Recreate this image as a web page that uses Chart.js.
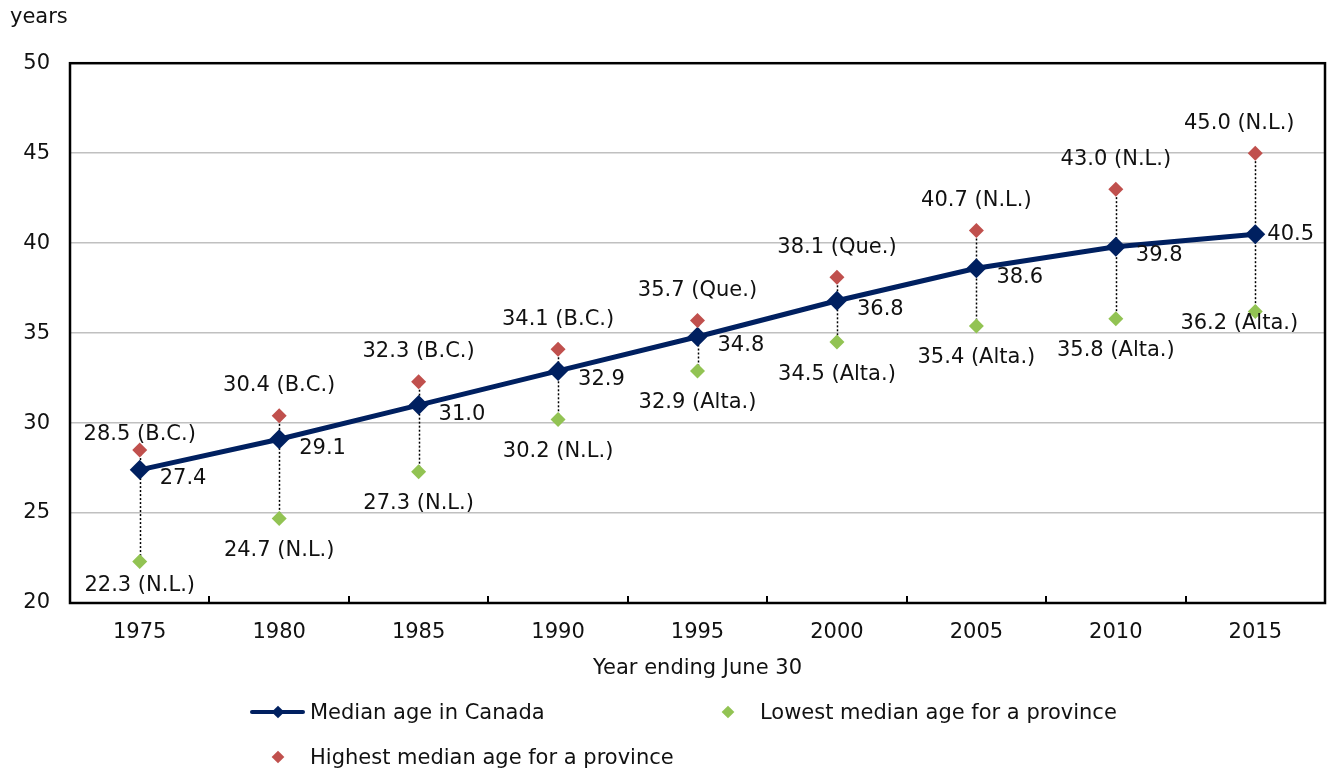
<!DOCTYPE html>
<html>
<head>
<meta charset="utf-8">
<script src="https://cdn.jsdelivr.net/npm/chart.js@4.4.1/dist/chart.umd.min.js"></script>
<style>
  body { margin: 0; background: #fff; font-family: "DejaVu Sans", Verdana, sans-serif; }
  #wrap { position: relative; width: 1327px; height: 770px; }
  #legend { position: absolute; left: 0; top: 0; width: 1327px; height: 770px; pointer-events: none; }
  .leg { position: absolute; display: flex; align-items: center; font-size: 21px; color: #111; height: 30px; }
  .sym { position: relative; display: inline-block; height: 30px; }
  .dia { position: absolute; top: 50%; left: 50%; transform: translate(-50%, -50%) rotate(45deg); }
  .bar { position: absolute; top: 50%; left: 0; right: 0; height: 4px; margin-top: -2px; border-radius: 2px; }
</style>
</head>
<body>
<div id="wrap">
  <canvas id="grafico" width="1327" height="690"></canvas>
  <div id="legend"></div>
</div>
<script>
const anos = ["1975", "1980", "1985", "1990", "1995", "2000", "2005", "2010", "2015"];
const medianaCanada = [27.4, 29.1, 31.0, 32.9, 34.8, 36.8, 38.6, 39.8, 40.5];
const maisAlta = [28.5, 30.4, 32.3, 34.1, 35.7, 38.1, 40.7, 43.0, 45.0];
const provAlta = ["B.C.", "B.C.", "B.C.", "B.C.", "Que.", "Que.", "N.L.", "N.L.", "N.L."];
const maisBaixa = [22.3, 24.7, 27.3, 30.2, 32.9, 34.5, 35.4, 35.8, 36.2];
const provBaixa = ["N.L.", "N.L.", "N.L.", "N.L.", "Alta.", "Alta.", "Alta.", "Alta.", "Alta."];
const yTicks = [20, 25, 30, 35, 40, 45, 50];

const AZUL = "#002060";
const VERMELHO = "#c0504d";
const VERDE = "#92c353";
const FONTE = '"DejaVu Sans", Verdana, sans-serif';

// moldura, ticks do eixo x e linhas pontilhadas entre o maior e o menor valor
const linhasPlugin = {
  id: "linhasPontilhadas",
  beforeDatasetsDraw(chart) {
    const { ctx, chartArea, scales: { x, y } } = chart;
    ctx.save();
    ctx.strokeStyle = "#000";
    ctx.lineWidth = 2;
    for (let i = 1; i < anos.length; i++) {
      const px = Math.round(x.getPixelForValue(i - 0.5));
      ctx.beginPath();
      ctx.moveTo(px, chartArea.bottom);
      ctx.lineTo(px, chartArea.bottom - 7);
      ctx.stroke();
    }
    ctx.lineWidth = 2.5;
    ctx.strokeRect(chartArea.left, chartArea.top, chartArea.right - chartArea.left, chartArea.bottom - chartArea.top);
    ctx.lineWidth = 1.5;
    ctx.setLineDash([2, 2]);
    anos.forEach((a, i) => {
      const px = Math.round(x.getPixelForValue(i)) + 0.5;
      ctx.beginPath();
      ctx.moveTo(px, y.getPixelForValue(maisAlta[i]));
      ctx.lineTo(px, y.getPixelForValue(maisBaixa[i]));
      ctx.stroke();
    });
    ctx.restore();
  },
};

// rótulos dos pontos
const rotulosPlugin = {
  id: "rotulos",
  afterDatasetsDraw(chart) {
    const { ctx } = chart;
    const ultimo = anos.length - 1;
    ctx.save();
    ctx.font = "21px " + FONTE;
    ctx.fillStyle = "#111";
    ctx.textBaseline = "middle";
    chart.getDatasetMeta(0).data.forEach((pt, i) => {
      ctx.textAlign = "left";
      const fim = i === ultimo;
      ctx.fillText(medianaCanada[i].toFixed(1), pt.x + (fim ? 12 : 20), pt.y + (fim ? 0 : 9));
    });
    chart.getDatasetMeta(1).data.forEach((pt, i) => {
      ctx.textAlign = "center";
      const dy = i === 0 ? -16 : -30;
      const dx = i === ultimo ? -16 : 0;
      ctx.fillText(maisAlta[i].toFixed(1) + " (" + provAlta[i] + ")", pt.x + dx, pt.y + dy);
    });
    chart.getDatasetMeta(2).data.forEach((pt, i) => {
      ctx.textAlign = "center";
      const dy = i === ultimo ? 12 : (i === 0 ? 24 : 32);
      const dx = i === ultimo ? -16 : 0;
      ctx.fillText(maisBaixa[i].toFixed(1) + " (" + provBaixa[i] + ")", pt.x + dx, pt.y + dy);
    });
    ctx.restore();
  },
};

const chart = new Chart(document.getElementById("grafico"), {
  type: "line",
  data: {
    labels: anos,
    datasets: [
      {
        label: "Median age in Canada",
        data: medianaCanada,
        borderColor: AZUL,
        backgroundColor: AZUL,
        borderWidth: 5,
        pointStyle: "rectRot",
        pointRadius: 10,
        pointBorderWidth: 0,
        tension: 0,
        order: 3,
      },
      {
        label: "Highest median age for a province",
        data: maisAlta,
        showLine: false,
        backgroundColor: VERMELHO,
        borderColor: VERMELHO,
        pointStyle: "rectRot",
        pointRadius: 7.5,
        pointBorderWidth: 0,
        order: 1,
      },
      {
        label: "Lowest median age for a province",
        data: maisBaixa,
        showLine: false,
        backgroundColor: VERDE,
        borderColor: VERDE,
        pointStyle: "rectRot",
        pointRadius: 7.5,
        pointBorderWidth: 0,
        order: 2,
      },
    ],
  },
  options: {
    responsive: false,
    animation: false,
    // autoPadding reservava 10px à direita por causa do raio dos pontos
    layout: { autoPadding: false, padding: { left: 10, right: 2, top: 0, bottom: 0 } },
    plugins: {
      legend: { display: false },
      tooltip: { enabled: false },
      title: {
        display: true,
        text: "years",
        align: "start",
        color: "#111",
        font: { family: FONTE, size: 21, weight: "normal" },
        padding: { top: 5, bottom: 33 },
      },
    },
    scales: {
      x: {
        type: "category",
        offset: true,
        grid: { display: false, drawTicks: false },
        border: { display: false },
        ticks: { color: "#111", font: { family: FONTE, size: 21 }, padding: 17, maxRotation: 0 },
        title: {
          display: true,
          text: "Year ending June 30",
          color: "#111",
          font: { family: FONTE, size: 21 },
          padding: { top: 0, bottom: 9 },
        },
        afterFit: (s) => { s.height = 87; s.paddingLeft = 0; s.paddingRight = 0; },
      },
      y: {
        min: 20,
        max: 50,
        afterBuildTicks: (s) => { s.ticks = yTicks.map((v) => ({ value: v })); },
        grid: {
          drawTicks: false,
          lineWidth: 1.5,
          color: (c) => (c.tick && (c.tick.value === 20 || c.tick.value === 50) ? "rgba(0,0,0,0)" : "#c0c0c0"),
        },
        border: { display: false },
        ticks: { color: "#111", font: { family: FONTE, size: 21 }, padding: 20 },
        afterFit: (s) => { s.width = 60; },
      },
    },
  },
  plugins: [linhasPlugin, rotulosPlugin],
});

// legenda em HTML: mediana e mais baixa na primeira linha, mais alta na segunda
const legenda = document.getElementById("legend");
const itensLegenda = [
  { di: 0, left: 250, top: 697, largura: 55, gap: 5 },
  { di: 2, left: 712, top: 697, largura: 32, gap: 16 },
  { di: 1, left: 262, top: 742, largura: 32, gap: 16 },
];
itensLegenda.forEach((p) => {
  const ds = chart.data.datasets[p.di];
  const item = document.createElement("div");
  item.className = "leg";
  item.style.left = p.left + "px";
  item.style.top = p.top + "px";
  const sym = document.createElement("span");
  sym.className = "sym";
  sym.style.width = p.largura + "px";
  sym.style.marginRight = p.gap + "px";
  if (p.di === 0) {
    const bar = document.createElement("span");
    bar.className = "bar";
    bar.style.background = ds.borderColor;
    sym.appendChild(bar);
  }
  const d = document.createElement("span");
  d.className = "dia";
  d.style.width = "9px";
  d.style.height = "9px";
  d.style.background = ds.backgroundColor;
  sym.appendChild(d);
  const txt = document.createElement("span");
  txt.textContent = ds.label;
  item.appendChild(sym);
  item.appendChild(txt);
  legenda.appendChild(item);
});
</script>
</body>
</html>
